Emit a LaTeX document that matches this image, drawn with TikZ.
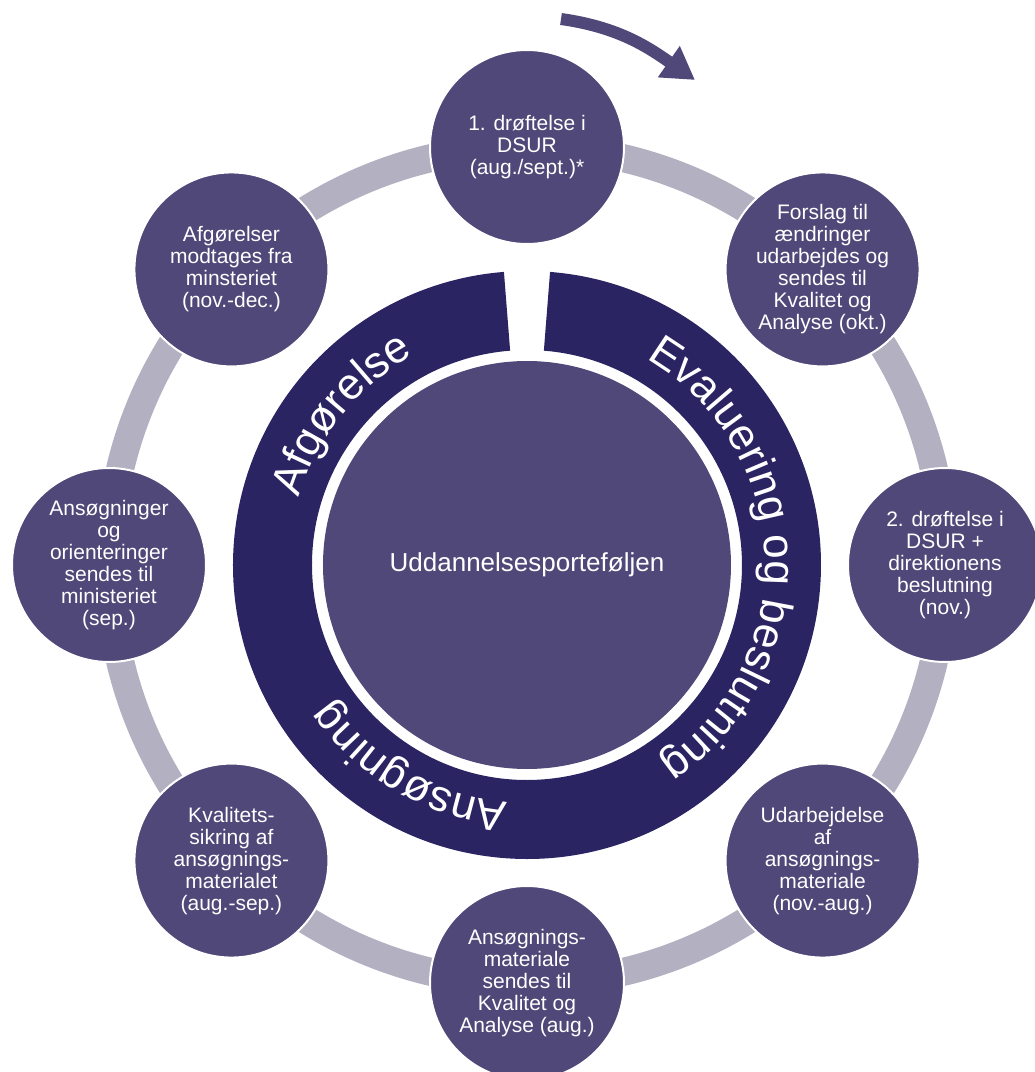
\documentclass[tikz,border=0pt]{standalone}
\usepackage{fontspec}
\setmainfont{Liberation Sans}
\usetikzlibrary{arrows.meta,decorations.text}

\definecolor{fasefarve}{RGB}{79,72,120}
\definecolor{morkring}{RGB}{43,36,98}
\definecolor{banefarve}{RGB}{178,176,193}

\begin{document}
\begin{tikzpicture}[x=1pt, y=1pt, >=Stealth,
    fase/.style={circle, minimum size=194pt, inner sep=0pt, fill=fasefarve,
      draw=white, line width=2pt, text=white, align=center,
      font=\fontsize{21}{22}\selectfont},
    ringtekst/.style={decorate, decoration={text along path, text align=center,
      text={|\color{white}\fontsize{44}{44}\selectfont|#1}}}]

    % Mål
    \def\Rb{418}   % radius for banen med faserne
    \def\Ri{215}   % ringens inderkant
    \def\Ry{294}   % ringens yderkant
    \def\Rt{238}   % grundlinje for ringteksten

    \useasboundingbox (-527,-507) rectangle (508,565);

    % Midten
    \node[fase, minimum size=408pt, draw=none, font=\fontsize{26}{28}\selectfont] (midte) at (0,0) {Uddannelsesporteføljen};

    % Grå bane mellem faserne
    \draw[banefarve, line width=28pt] (midte.center) circle[radius=\Rb];

    % Faserne, med uret fra toppen
    \node[fase] (f1) at (90:\Rb)   {1. drøftelse i\\DSUR\\(aug./sept.)*};
    \node[fase] (f2) at (45:\Rb)   {Forslag til\\ændringer\\udarbejdes og\\sendes til\\Kvalitet og\\Analyse (okt.)};
    \node[fase] (f3) at (0:\Rb)    {2. drøftelse i\\DSUR +\\direktionens\\beslutning\\(nov.)};
    \node[fase] (f4) at (-45:\Rb)  {Udarbejdelse\\af\\ansøgnings-\\materiale\\(nov.-aug.)};
    \node[fase] (f5) at (-90:\Rb)  {Ansøgnings-\\materiale\\sendes til\\Kvalitet og\\Analyse (aug.)};
    \node[fase] (f6) at (-135:\Rb) {Kvalitets-\\sikring af\\ansøgnings-\\materialet\\(aug.-sep.)};
    \node[fase] (f7) at (180:\Rb)  {Ansøgninger\\og\\orienteringer\\sendes til\\ministeriet\\(sep.)};
    \node[fase] (f8) at (135:\Rb)  {Afgørelser\\modtages fra\\minsteriet\\(nov.-dec.)};

    % Mørk ring med åbning foroven
    \fill[morkring] (85.5:\Ry) arc[start angle=85.5, end angle=-265.5, radius=\Ry]
      -- (-265.5:\Ri) arc[start angle=-265.5, end angle=85.5, radius=\Ri] -- cycle;

    % Tekst langs ringen (med uret)
    \path[ringtekst=Afgørelse] (181:\Rt) arc[start angle=181, end angle=101, radius=\Rt];
    \path[ringtekst=Evaluering og beslutning] (77:\Rt) arc[start angle=77, end angle=-73, radius=\Rt];
    \path[ringtekst=Ansøgning] (-80:\Rt) arc[start angle=-80, end angle=-160, radius=\Rt];

    % Pil for retningen
    \coordinate (pilstart) at (34,546);
    \coordinate (pilslut) at (168,485);
    \draw[fasefarve, line width=12pt, -{Triangle[width=36pt,length=32pt]}]
      (pilstart) to[out=-8, in=145] (pilslut);

\end{tikzpicture}
\end{document}
